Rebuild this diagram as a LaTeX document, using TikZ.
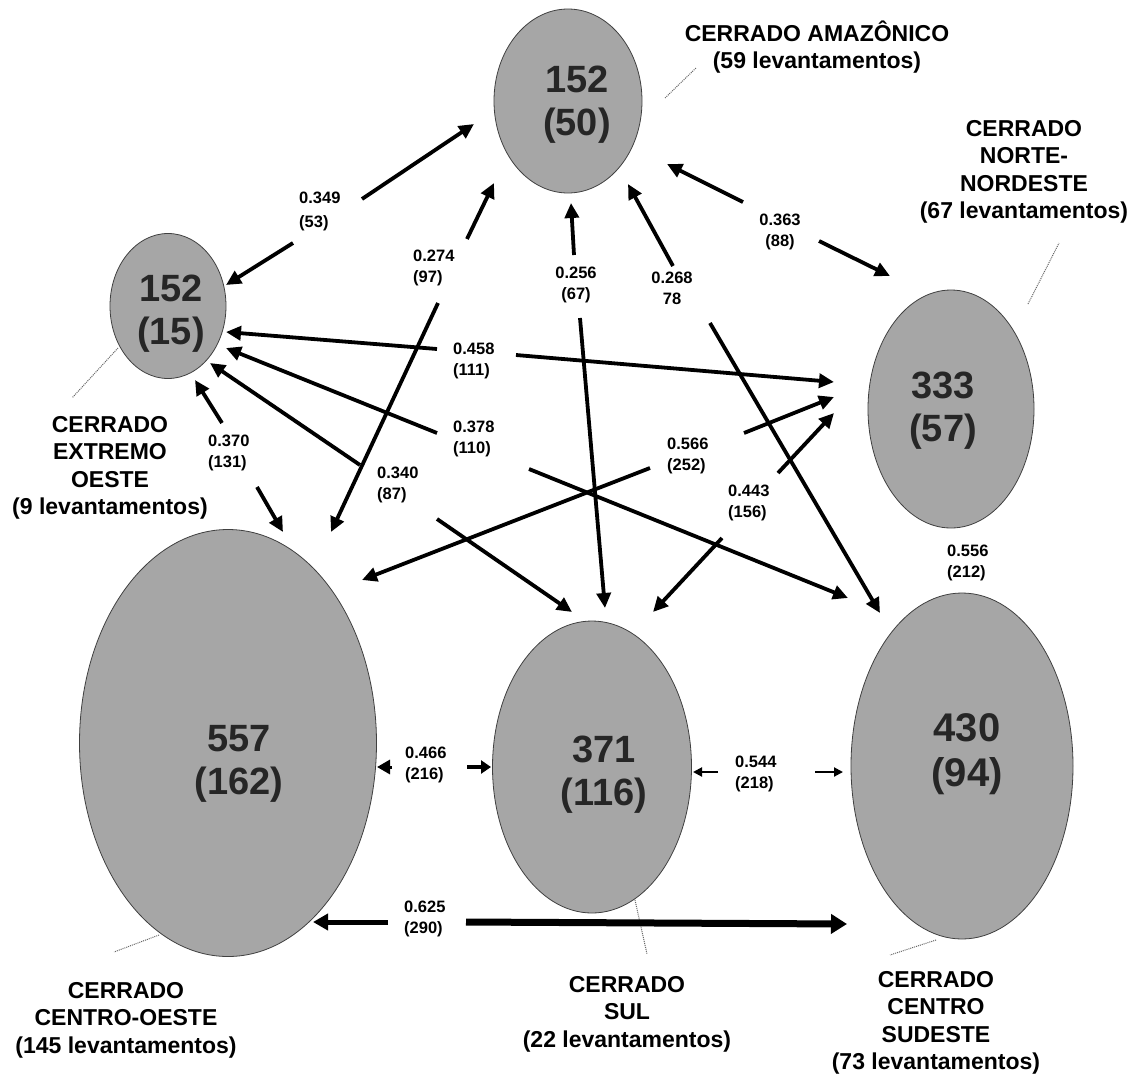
\documentclass[tikz,border=0pt]{standalone}
\usepackage{fontspec}
\setmainfont{Liberation Sans}
\usetikzlibrary{arrows.meta,shapes.geometric}
\definecolor{regfill}{HTML}{A6A6A6}
\definecolor{numtext}{HTML}{262626}
\tikzset{
  region/.style={ellipse, draw=black!75, line width=0.8pt, fill=regfill, inner sep=0pt},
  bignum/.style={align=center, text=numtext, font=\fontsize{38}{43}\selectfont\bfseries, inner sep=0pt},
  rlabel/.style={align=center, font=\fontsize{23}{27.5}\selectfont\bfseries, inner sep=0pt},
  elabel/.style={font=\fontsize{16.5}{21}\selectfont\bfseries, inner sep=0pt},
  conn/.style={line width=3.8pt, -{Triangle[length=15pt,width=14pt]}},
  thinconn/.style={line width=2pt, -{Triangle[length=9pt,width=9pt]}},
  leader/.style={densely dotted, line width=1pt, black!60},
}
\begin{document}
\begin{tikzpicture}[x=1pt,y=-1pt]
\useasboundingbox (0,0) rectangle (1136,1077);
\fill[white] (0,0) rectangle (1136,1077);

% regions
\node[region, minimum width=148pt, minimum height=184pt] (amz) at (568,101) {};
\node[region, minimum width=116pt, minimum height=145pt] (eo) at (168,306) {};
\node[region, minimum width=166pt, minimum height=238pt] (nn) at (951,409) {};
\node[region, minimum width=297pt, minimum height=427pt] (co) at (228,743) {};
\node[region, minimum width=199pt, minimum height=292pt] (sul) at (592,767) {};
\node[region, minimum width=222pt, minimum height=346pt] (cs) at (962,766) {};

% numbers
\node[bignum] (amz-n) at (577,105) {152\\(50)};
\node[bignum] (eo-n) at (171,314) {152\\(15)};
\node[bignum] (nn-n) at (943,411) {333\\(57)};
\node[bignum] (co-n) at (239,764) {557\\(162)};
\node[bignum] (sul-n) at (604,775) {371\\(116)};
\node[bignum, font=\fontsize{40}{45}\selectfont\bfseries] (cs-n) at (967,754) {430\\(94)};

% region labels
\node[rlabel] (amz-l) at (817,47) {CERRADO AMAZÔNICO\\(59 levantamentos)};
\node[rlabel] (nn-l) at (1024,172) {CERRADO\\NORTE-\\NORDESTE\\(67 levantamentos)};
\node[rlabel] (eo-l) at (110,468) {CERRADO\\EXTREMO\\OESTE\\(9 levantamentos)};
\node[rlabel] (co-l) at (126,1020) {CERRADO\\CENTRO-OESTE\\(145 levantamentos)};
\node[rlabel] (sul-l) at (627,1014) {CERRADO\\SUL\\(22 levantamentos)};
\node[rlabel] (cs-l) at (936,1023) {CERRADO\\CENTRO\\SUDESTE\\(73 levantamentos)};

% leader lines
\coordinate (amz-la) at (665,98);  \coordinate (amz-lb) at (696,68);
\coordinate (nn-la) at (1028,304); \coordinate (nn-lb) at (1059,243);
\coordinate (eo-la) at (118,348);  \coordinate (eo-lb) at (72,398);
\coordinate (co-la) at (159,935);  \coordinate (co-lb) at (114,952);
\coordinate (sul-la) at (635,900); \coordinate (sul-lb) at (647,954);
\coordinate (cs-la) at (936,940);  \coordinate (cs-lb) at (890,955);
\draw[leader] (amz-la) -- (amz-lb);
\draw[leader] (nn-la) -- (nn-lb);
\draw[leader] (eo-la) -- (eo-lb);
\draw[leader] (co-la) -- (co-lb);
\draw[leader] (sul-la) -- (sul-lb);
\draw[leader] (cs-la) -- (cs-lb);

% edge labels
\node[elabel, align=left, anchor=west, font=\fontsize{16.5}{24}\selectfont\bfseries] (l349) at (299,211) {0.349\\(53)};
\node[elabel, align=left, anchor=west] (l274) at (413,268) {0.274\\(97)};
\node[elabel, align=center] (l256) at (576,284.5) {0.256\\(67)};
\node[elabel, align=center] (l268) at (672,288) {0.268\\78};
\node[elabel, align=center] (l363) at (780,232) {0.363\\(88)};
\node[elabel, align=left, anchor=west] (l458) at (453,360.5) {0.458\\(111)};
\node[elabel, align=left, anchor=west] (l378) at (453,438.5) {0.378\\(110)};
\node[elabel, align=left, anchor=west] (l370) at (208,453) {0.370\\(131)};
\node[elabel, align=left, anchor=west] (l340) at (377,485) {0.340\\(87)};
\node[elabel, align=left, anchor=west] (l566) at (667,455.5) {0.566\\(252)};
\node[elabel, align=left, anchor=west] (l443) at (728,502.5) {0.443\\(156)};
\node[elabel, align=left, anchor=west] (l556) at (947,563) {0.556\\(212)};
\node[elabel, align=left, anchor=west] (l466) at (405,764.5) {0.466\\(216)};
\node[elabel, align=left, anchor=west] (l544) at (735,774) {0.544\\(218)};
\node[elabel, align=left, anchor=west] (l625) at (404,919) {0.625\\(290)};

% connector end points
\coordinate (e349a) at (293,243); \coordinate (e349b) at (226,285);
\coordinate (e349c) at (362,199); \coordinate (e349d) at (474,124);
\coordinate (e274a) at (467,239); \coordinate (e274b) at (494,183);
\coordinate (e274c) at (438,303); \coordinate (e274d) at (331,532);
\coordinate (e256a) at (574,255); \coordinate (e256b) at (571,203);
\coordinate (e256c) at (580,318); \coordinate (e256d) at (605,608);
\coordinate (e268a) at (673,266); \coordinate (e268b) at (628,184);
\coordinate (e268c) at (710,323); \coordinate (e268d) at (880,613);
\coordinate (e363a) at (743,202); \coordinate (e363b) at (667,164);
\coordinate (e363c) at (819,241); \coordinate (e363d) at (890,276);
\coordinate (e458a) at (437,349); \coordinate (e458b) at (226,332);
\coordinate (e458c) at (516,355); \coordinate (e458d) at (834,382);
\coordinate (e378a) at (437,433); \coordinate (e378b) at (226,348);
\coordinate (e378c) at (529,469); \coordinate (e378d) at (848,598);
\coordinate (e370a) at (222,423); \coordinate (e370b) at (195,380);
\coordinate (e370c) at (257,487); \coordinate (e370d) at (283,532);
\coordinate (e340a) at (360,465); \coordinate (e340b) at (210,363);
\coordinate (e340c) at (437,519); \coordinate (e340d) at (572,612);
\coordinate (e566a) at (650,468); \coordinate (e566b) at (362,580);
\coordinate (e566c) at (744,433); \coordinate (e566d) at (834,397);
\coordinate (e443a) at (722,538); \coordinate (e443b) at (653,612);
\coordinate (e443c) at (778,473); \coordinate (e443d) at (834,413);
\coordinate (e466a) at (392,767); \coordinate (e466b) at (377,767);
\coordinate (e466c) at (467,767); \coordinate (e466d) at (491,767);
\coordinate (e544a) at (718,772); \coordinate (e544b) at (693,772);
\coordinate (e544c) at (815,772); \coordinate (e544d) at (843,772);
\coordinate (e625a) at (388,922); \coordinate (e625b) at (313,922);
\coordinate (e625c) at (466,922); \coordinate (e625d) at (847,924);

% connectors
\draw[conn] (e349a) -- (e349b);
\draw[conn] (e349c) -- (e349d);
\draw[conn] (e274a) -- (e274b);
\draw[conn] (e274c) -- (e274d);
\draw[conn] (e256a) -- (e256b);
\draw[conn] (e256c) -- (e256d);
\draw[conn] (e268a) -- (e268b);
\draw[conn] (e268c) -- (e268d);
\draw[conn] (e363a) -- (e363b);
\draw[conn] (e363c) -- (e363d);
\draw[conn] (e458a) -- (e458b);
\draw[conn] (e458c) -- (e458d);
\draw[conn] (e378a) -- (e378b);
\draw[conn] (e378c) -- (e378d);
\draw[conn] (e370a) -- (e370b);
\draw[conn] (e370c) -- (e370d);
\draw[conn] (e340a) -- (e340b);
\draw[conn] (e340c) -- (e340d);
\draw[conn] (e566a) -- (e566b);
\draw[conn] (e566c) -- (e566d);
\draw[conn] (e443a) -- (e443b);
\draw[conn] (e443c) -- (e443d);
\draw[line width=3pt, -{Triangle[length=13pt,width=14pt]}] (e466a) -- (e466b);
\draw[line width=4.5pt, -{Triangle[length=10pt,width=13pt]}] (e466c) -- (e466d);
\draw[thinconn] (e544a) -- (e544b);
\draw[thinconn] (e544c) -- (e544d);
\draw[line width=5pt, -{Triangle[length=15pt,width=16pt]}] (e625a) -- (e625b);
\draw[line width=7pt, -{Triangle[length=16pt,width=19pt]}] (e625c) -- (e625d);
\end{tikzpicture}
\end{document}
